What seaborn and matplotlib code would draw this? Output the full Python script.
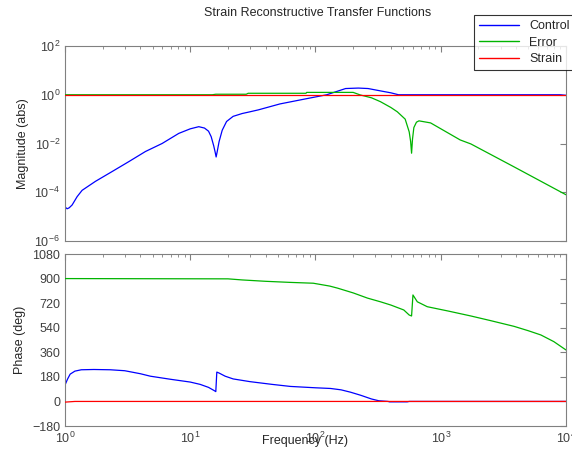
import numpy as np
import matplotlib
matplotlib.use("Agg")
import matplotlib.pyplot as plt
import seaborn as sns

# ----------------------------------------------------------------------
# Data (frequency in Hz)
# ----------------------------------------------------------------------
control_mag_f = [1.0, 1.04, 1.08, 1.14, 1.25, 1.37, 1.75, 2.37, 3.23, 4.39,
                 5.96, 8.1, 10, 11.7, 13, 14, 14.7, 15.4, 15.8, 16.1, 16.4,
                 17.0, 18.0, 19.5, 22, 26, 30, 35, 52, 80, 123, 174, 220,
                 263, 340, 400, 460, 9000, 10000]
control_mag = [2.5e-5, 2.1e-5, 2.3e-5, 3.0e-5, 6.6e-5, 1.2e-4, 2.8e-4, 7e-4,
               1.8e-3, 4.7e-3, 1.0e-2, 2.6e-2, 4.0e-2, 4.9e-2, 4.3e-2,
               3.2e-2, 1.9e-2, 8e-3, 4.5e-3, 2.8e-3, 4.5e-3, 1.2e-2, 3.5e-2,
               8e-2, 0.13, 0.17, 0.2, 0.24, 0.42, 0.65, 1.0, 1.8, 1.88, 1.8,
               1.4, 1.2, 1.0, 1.0, 0.95]

error_mag_f = [1.0, 15, 16, 28, 29, 84, 85, 200, 228, 280, 330, 400, 450,
               520, 560, 575, 585, 595, 610, 640, 670, 830, 1430, 1740, 3850,
               10000]
error_mag = [1.0, 1.0, 1.05, 1.05, 1.15, 1.15, 1.25, 1.25, 0.98, 0.75, 0.52,
             0.3, 0.2, 0.1, 0.03, 0.012, 4e-3, 0.015, 0.045, 0.075, 0.085,
             0.07, 0.014, 9.6e-3, 1.1e-3, 7.9e-5]

strain_mag_f = [1.0, 10000]
strain_mag = [1.0, 1.0]

control_ph_f = [1.0, 1.05, 1.1, 1.2, 1.35, 1.7, 2.3, 3.0, 4.0, 4.8, 7.0, 10,
                12, 14, 15.5, 16.0, 16.3, 17, 19, 22, 30, 45, 63, 100, 132,
                160, 190, 230, 280, 320, 380, 390, 540, 560, 10000]
control_ph = [120, 165, 200, 222, 232, 234, 232, 225, 203, 185, 162, 142,
              125, 103, 80, 72, 215, 208, 185, 165, 145, 125, 110, 100, 95,
              85, 68, 45, 18, 5, 0, -3, -3, 0, 0]

error_ph_f = [1.0, 20, 26, 40, 63, 96, 130, 150, 200, 260, 330, 400, 507,
              560, 585, 600, 650, 780, 1150, 1740, 2500, 3850, 5000, 6300,
              8000, 10000]
error_ph = [900, 898, 890, 880, 872, 866, 845, 830, 795, 757, 730, 706, 670,
            633, 626, 780, 730, 694, 662, 626, 592, 550, 518, 487,
            438, 377]

strain_ph_f = [1.0, 1.2, 10000]
strain_ph = [-5, 0, 0]

series = ["Control", "Error", "Strain"]
colors = {"Control": "#0000ff", "Error": "#00b400", "Strain": "#ff0000"}

mag_data = {
    "Control": (control_mag_f, control_mag),
    "Error": (error_mag_f, error_mag),
    "Strain": (strain_mag_f, strain_mag),
}
ph_data = {
    "Control": (control_ph_f, control_ph),
    "Error": (error_ph_f, error_ph),
    "Strain": (strain_ph_f, strain_ph),
}

# ----------------------------------------------------------------------
# Plot
# ----------------------------------------------------------------------
sns.set_style("white")
plt.rcParams["font.family"] = ["Liberation Sans", "DejaVu Sans"]

fig = plt.figure(figsize=(5.72, 4.51), dpi=100)
ax1 = fig.add_axes([0.1136, 0.4656, 0.8759, 0.4324])
ax2 = fig.add_axes([0.1136, 0.0554, 0.8759, 0.3814])

for ax, data in [(ax1, mag_data), (ax2, ph_data)]:
    # draw in order so Strain ends up on top, like the original
    for z, s in enumerate(series):
        f, v = data[s]
        sns.lineplot(x=f, y=v, color=colors[s], ax=ax, lw=0.9, sort=False,
                     estimator=None, zorder=2 + z)
    ax.set_xscale("log")
    ax.set_xlim(1, 1e4)
    ax.tick_params(which="both", direction="in", top=True, right=True,
                   colors="#808080", labelcolor="#404040", labelsize=9)
    ax.tick_params(which="major", length=4)
    ax.tick_params(which="minor", length=2)
    for sp in ax.spines.values():
        sp.set_color("#808080")
        sp.set_linewidth(0.8)

ax1.set_yscale("log")
ax1.set_ylim(1e-6, 1e2)
ax1.set_yticks([1e-6, 1e-4, 1e-2, 1e0, 1e2])
ax1.yaxis.set_minor_locator(matplotlib.ticker.NullLocator())
ax1.tick_params(axis="x", which="both", labelbottom=False)
ax1.set_ylabel("Magnitude (abs)", fontsize=9)

ax2.set_ylim(-180, 1080)
ax2.set_yticks(np.arange(-180, 1081, 180))
ax2.set_ylabel("Phase (deg)", fontsize=9)
ax2.set_xlabel("Frequency (Hz)", fontsize=9)
ax2.xaxis.set_label_coords(0.48, -0.055)

fig.suptitle("Strain Reconstructive Transfer Functions", fontsize=9,
             x=0.555, y=0.985)

handles = [plt.Line2D([], [], color=colors[s], lw=1.0) for s in series]
leg = fig.legend(handles, series, loc="upper left",
                 bbox_to_anchor=(0.818, 0.98), fontsize=9, frameon=True,
                 fancybox=False, handlelength=3.2, borderpad=0.4,
                 labelspacing=0.35)
leg.get_frame().set_edgecolor("black")
leg.get_frame().set_linewidth(0.8)

fig.savefig("out.png", dpi=100)
